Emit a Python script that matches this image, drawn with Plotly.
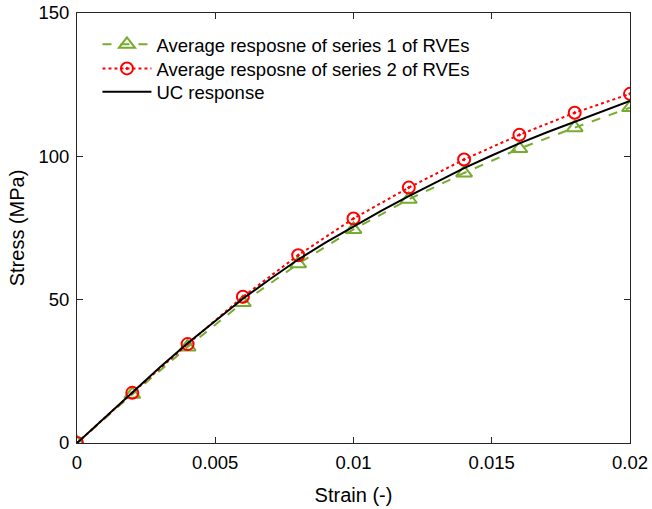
import plotly.graph_objects as go

strain_markers = [0, 0.002, 0.004, 0.006, 0.008, 0.010, 0.012, 0.014, 0.016, 0.018, 0.020]
series1 = [0, 17.0, 33.5, 49.0, 62.5, 74.5, 85.0, 94.2, 102.7, 110.0, 117.0]
series2 = [0, 17.5, 34.5, 51.0, 65.5, 78.3, 89.1, 98.9, 107.5, 115.2, 121.8]

strain_uc = [0, 0.001, 0.002, 0.003, 0.004, 0.005, 0.006, 0.007, 0.008, 0.009, 0.010,
             0.011, 0.012, 0.013, 0.014, 0.015, 0.016, 0.017, 0.018, 0.019, 0.020]
uc = [0, 8.9, 17.8, 26.4, 34.8, 42.7, 50.3, 57.3, 64.0, 70.0, 75.6,
      81.0, 86.1, 91.1, 95.9, 100.3, 104.5, 108.4, 112.0, 115.6, 119.3]

x_ticks = [0, 0.005, 0.01, 0.015, 0.02]
x_ticklabels = ["0", "0.005", "0.01", "0.015", "0.02"]
y_ticks = [0, 50, 100, 150]

green = "#77AC30"
red = "#FF0000"

fig = go.Figure()
fig.add_trace(go.Scatter(
    x=strain_markers, y=series1, mode="lines+markers",
    name="Average resposne of series 1 of RVEs", legend="legend",
    line=dict(color=green, width=2, dash="dash"),
    marker=dict(symbol="triangle-up-open", size=14, color=green, line=dict(width=2, color=green)),
))
fig.add_trace(go.Scatter(
    x=strain_markers, y=series2, mode="lines+markers",
    name="Average resposne of series 2 of RVEs", legend="legend2",
    line=dict(color=red, width=2, dash="dot"),
    marker=dict(symbol="circle-open-dot", size=12, color=red, line=dict(width=2, color=red)),
))
fig.add_trace(go.Scatter(
    x=strain_uc, y=uc, mode="lines",
    name="UC response", legend="legend3",
    line=dict(color="black", width=2),
))

axis_common = dict(
    showgrid=False, zeroline=False, showline=True, linecolor="#262626", linewidth=1,
    mirror="ticks", ticks="inside", ticklen=6, tickcolor="#262626",
    tickfont=dict(size=18.5, color="black"), automargin=False, ticklabelstandoff=3,
)
fig.update_xaxes(range=[0, 0.02], tickvals=x_ticks, ticktext=x_ticklabels,
                 title=dict(text="Strain (-)", font=dict(size=20, color="black")),
                 **axis_common)
fig.update_yaxes(range=[0, 150], tickvals=y_ticks, **axis_common)

fig.add_annotation(text="Stress (MPa)", xref="paper", yref="paper",
                   x=-0.108, y=0.5, xanchor="center", yanchor="middle",
                   textangle=-90, showarrow=False,
                   font=dict(size=20, color="black"))

leg_common = dict(x=0.037, xanchor="left", yanchor="middle",
                  bgcolor="rgba(0,0,0,0)", borderwidth=0, itemwidth=49,
                  font=dict(size=18.5, color="black"))
fig.update_layout(
    width=652, height=509,
    margin=dict(l=77, r=22, t=13, b=66),
    paper_bgcolor="white", plot_bgcolor="white",
    font=dict(family="Liberation Sans, Arial, sans-serif", color="black"),
    legend=dict(y=0.926, **leg_common),
    legend2=dict(y=0.870, **leg_common),
    legend3=dict(y=0.816, **leg_common),
    showlegend=True,
)

fig.write_html("out.html")
